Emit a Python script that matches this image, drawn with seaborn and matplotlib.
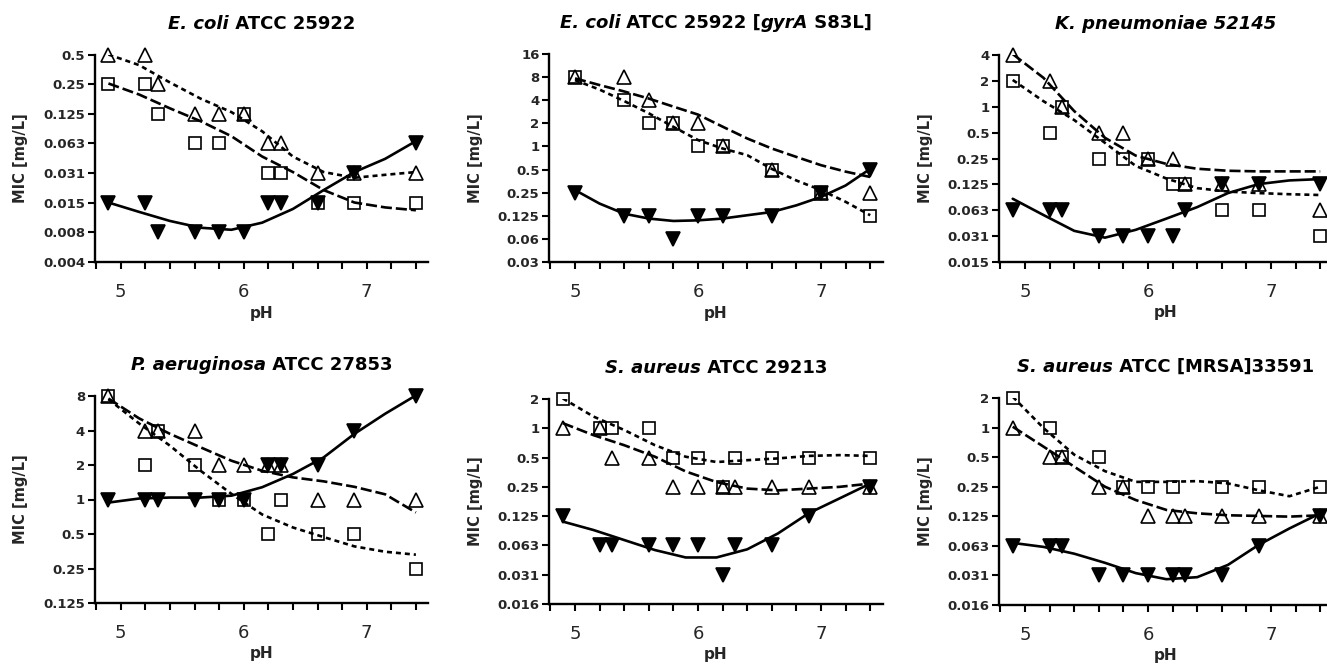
import numpy as np
import matplotlib
matplotlib.use("Agg")
import matplotlib.pyplot as plt
import seaborn as sns
from matplotlib.offsetbox import TextArea, HPacker, AnchoredOffsetbox
from matplotlib.ticker import NullLocator

# pH values of the measured points
PH = [4.9, 5.2, 5.3, 5.6, 5.8, 6.0, 6.2, 6.3, 6.6, 6.9, 7.4]
PH_GYRA = [5.0, 5.4, 5.6, 5.8, 6.0, 6.2, 6.6, 7.0, 7.4]
# pH values where the fitted curves were read
FIT_PH = [4.9, 5.15, 5.4, 5.65, 5.9, 6.15, 6.4, 6.65, 6.9, 7.15, 7.4]
FIT_PH_GYRA = [5.0, 5.2, 5.4, 5.6, 5.8, 6.0, 6.2, 6.4, 6.6, 6.8, 7.0, 7.2, 7.4]

# E. coli ATCC 25922
ecoli_tri = [0.5, 0.5, 0.25, 0.125, 0.125, 0.125, 0.0625, 0.0625, 0.03125, 0.03125, 0.03125]
ecoli_sq = [0.25, 0.25, 0.125, 0.0625, 0.0625, 0.125, 0.03125, 0.03125, 0.015625, 0.015625, 0.015625]
ecoli_inv = [0.015625, 0.015625, 0.0078125, 0.0078125, 0.0078125, 0.0078125, 0.015625, 0.015625, 0.015625, 0.03125, 0.0625]
ecoli_tri_fit = [0.50, 0.39, 0.26, 0.178, 0.130, 0.083, 0.046, 0.032, 0.028, 0.030, 0.032]
ecoli_sq_fit = [0.254, 0.196, 0.142, 0.105, 0.074, 0.046, 0.032, 0.021, 0.0157, 0.0140, 0.0131]
ecoli_inv_fit = [0.0157, 0.0126, 0.0102, 0.0087, 0.0083, 0.0098, 0.0135, 0.021, 0.032, 0.0436, 0.066]

# E. coli ATCC 25922 [gyrA S83L]
gyra_tri = [8, 8, 4, 2, 2, 1, 0.5, 0.25, 0.25]
gyra_sq = [8, 4, 2, 2, 1, 1, 0.5, 0.25, 0.125]
gyra_inv = [0.25, 0.125, 0.125, 0.0625, 0.125, 0.125, 0.125, 0.25, 0.5]
gyra_tri_fit = [7.7, 6.3, 5.2, 4.2, 3.3, 2.6, 1.81, 1.27, 0.94, 0.73, 0.57, 0.47, 0.40]
gyra_sq_fit = [7.3, 5.5, 3.9, 2.7, 1.80, 1.21, 0.94, 0.77, 0.51, 0.36, 0.27, 0.19, 0.127]
gyra_inv_fit = [0.27, 0.18, 0.133, 0.115, 0.107, 0.109, 0.115, 0.127, 0.140, 0.171, 0.22, 0.31, 0.51]

# K. pneumoniae 52145
kpn_tri = [4, 2, 1, 0.5, 0.5, 0.25, 0.25, 0.125, 0.125, 0.125, 0.0625]
kpn_sq = [2, 0.5, 1, 0.25, 0.25, 0.25, 0.125, 0.125, 0.0625, 0.0625, 0.03125]
kpn_inv = [0.0625, 0.0625, 0.0625, 0.03125, 0.03125, 0.03125, 0.03125, 0.0625, 0.125, 0.125, 0.125]
kpn_tri_fit = [4.1, 2.17, 0.89, 0.435, 0.27, 0.216, 0.19, 0.18, 0.177, 0.177, 0.177]
kpn_sq_fit = [2.05, 1.16, 0.70, 0.38, 0.205, 0.146, 0.113, 0.103, 0.099, 0.096, 0.094]
kpn_inv_fit = [0.085, 0.055, 0.036, 0.030, 0.037, 0.050, 0.068, 0.099, 0.126, 0.139, 0.144]

# P. aeruginosa ATCC 27853
pae_tri = [8, 4, 4, 4, 2, 2, 2, 2, 1, 1, 1]
pae_sq = [8, 2, 4, 2, 1, 1, 0.5, 1, 0.5, 0.5, 0.25]
pae_inv = [1, 1, 1, 1, 1, 1, 2, 2, 2, 4, 8]
pae_tri_fit = [7.6, 5.1, 3.74, 2.85, 2.18, 1.78, 1.56, 1.44, 1.29, 1.11, 0.77]
pae_sq_fit = [7.5, 4.6, 2.95, 1.78, 1.12, 0.74, 0.57, 0.47, 0.39, 0.35, 0.33]
pae_inv_fit = [0.94, 1.02, 1.04, 1.04, 1.08, 1.28, 1.67, 2.33, 3.74, 5.6, 8.1]

# S. aureus ATCC 29213
sau_tri = [1, 1, 0.5, 0.5, 0.25, 0.25, 0.25, 0.25, 0.25, 0.25, 0.25]
sau_sq = [2, 1, 1, 1, 0.5, 0.5, 0.25, 0.5, 0.5, 0.5, 0.5]
sau_inv = [0.125, 0.0625, 0.0625, 0.0625, 0.0625, 0.0625, 0.03125, 0.0625, 0.0625, 0.125, 0.25]
sau_tri_fit = [1.13, 0.85, 0.67, 0.51, 0.36, 0.28, 0.24, 0.23, 0.24, 0.25, 0.27]
sau_sq_fit = [2.03, 1.32, 0.96, 0.67, 0.51, 0.45, 0.47, 0.49, 0.52, 0.53, 0.52]
sau_inv_fit = [0.110, 0.090, 0.071, 0.056, 0.047, 0.047, 0.057, 0.083, 0.134, 0.19, 0.27]

# S. aureus ATCC [MRSA]33591
mrsa_tri = [1, 0.5, 0.5, 0.25, 0.25, 0.125, 0.125, 0.125, 0.125, 0.125, 0.125]
mrsa_sq = [2, 1, 0.5, 0.5, 0.25, 0.25, 0.25, np.nan, 0.25, 0.25, 0.25]
mrsa_inv = [0.0625, 0.0625, 0.0625, 0.03125, 0.03125, 0.03125, 0.03125, 0.03125, 0.03125, 0.0625, 0.125]
mrsa_tri_fit = [1.02, 0.64, 0.40, 0.25, 0.183, 0.145, 0.134, 0.128, 0.126, 0.124, 0.128]
mrsa_sq_fit = [2.06, 0.99, 0.53, 0.36, 0.28, 0.28, 0.285, 0.27, 0.23, 0.20, 0.25]
mrsa_inv_fit = [0.067, 0.061, 0.052, 0.042, 0.033, 0.0286, 0.030, 0.040, 0.064, 0.094, 0.134]

YT_ECOLI = ['0.004', '0.008', '0.015', '0.031', '0.063', '0.125', '0.25', '0.5']
YT_GYRA = ['0.03', '0.06', '0.125', '0.25', '0.5', '1', '2', '4', '8', '16']
YT_KPN = ['0.015', '0.031', '0.063', '0.125', '0.25', '0.5', '1', '2', '4']
YT_PAE = ['0.125', '0.25', '0.5', '1', '2', '4', '8']
YT_SAU = ['0.016', '0.031', '0.063', '0.125', '0.25', '0.5', '1', '2']

SHORT = (0, (1.9, 1.5))
LONG = (0, (4.2, 1.5))

panels = [
    dict(title=[("E. coli", True), (" ATCC 25922", False)], ph=PH, fph=FIT_PH,
         tri=ecoli_tri, sq=ecoli_sq, inv=ecoli_inv,
         tri_fit=ecoli_tri_fit, sq_fit=ecoli_sq_fit, inv_fit=ecoli_inv_fit,
         yt=YT_ECOLI, ylo=-8, tri_ls=SHORT, sq_ls=LONG, box=(94.9, 54.5, 262)),
    dict(title=[("E. coli", True), (" ATCC 25922 [", False), ("gyrA", True), (" S83L]", False)],
         ph=PH_GYRA, fph=FIT_PH_GYRA,
         tri=gyra_tri, sq=gyra_sq, inv=gyra_inv,
         tri_fit=gyra_tri_fit, sq_fit=gyra_sq_fit, inv_fit=gyra_inv_fit,
         yt=YT_GYRA, ylo=-5, tri_ls=LONG, sq_ls=SHORT, box=(549.2, 54, 262)),
    dict(title=[("K. pneumoniae 52145", True)], ph=PH, fph=FIT_PH,
         tri=kpn_tri, sq=kpn_sq, inv=kpn_inv,
         tri_fit=kpn_tri_fit, sq_fit=kpn_sq_fit, inv_fit=kpn_inv_fit,
         yt=YT_KPN, ylo=-6, tri_ls=LONG, sq_ls=SHORT, box=(999.2, 55, 262)),
    dict(title=[("P. aeruginosa", True), (" ATCC 27853", False)], ph=PH, fph=FIT_PH,
         tri=pae_tri, sq=pae_sq, inv=pae_inv,
         tri_fit=pae_tri_fit, sq_fit=pae_sq_fit, inv_fit=pae_inv_fit,
         yt=YT_PAE, ylo=-3, tri_ls=LONG, sq_ls=SHORT, box=(94.9, 396, 603)),
    dict(title=[("S. aureus", True), (" ATCC 29213", False)], ph=PH, fph=FIT_PH,
         tri=sau_tri, sq=sau_sq, inv=sau_inv,
         tri_fit=sau_tri_fit, sq_fit=sau_sq_fit, inv_fit=sau_inv_fit,
         yt=YT_SAU, ylo=-6, tri_ls=LONG, sq_ls=SHORT, box=(549.2, 399, 604)),
    dict(title=[("S. aureus", True), (" ATCC [MRSA]33591", False)], ph=PH, fph=FIT_PH,
         tri=mrsa_tri, sq=mrsa_sq, inv=mrsa_inv,
         tri_fit=mrsa_tri_fit, sq_fit=mrsa_sq_fit, inv_fit=mrsa_inv_fit,
         yt=YT_SAU, ylo=-6, tri_ls=LONG, sq_ls=SHORT, box=(999.2, 398, 605)),
]

sns.set_style("ticks")
plt.rcParams['font.family'] = ['DejaVu Sans']

W, H = 1327, 665
fig = plt.figure(figsize=(W / 100, H / 100), dpi=100)
AX_W = 333.3


def add_title(ax, parts):
    boxes = [TextArea(t, textprops=dict(fontsize=13, fontweight='bold', color='k',
                                        fontstyle='italic' if it else 'normal'))
             for t, it in parts]
    pack = HPacker(children=boxes, align='baseline', pad=0, sep=0)
    ab = AnchoredOffsetbox(loc='lower center', child=pack, pad=0, borderpad=0, frameon=False,
                           bbox_to_anchor=(0.5, 1.105), bbox_transform=ax.transAxes)
    ax.add_artist(ab)


for p in panels:
    left, top, bottom = p['box']
    ax = fig.add_axes([left / W, (H - bottom) / H, AX_W / W, (bottom - top) / H])
    ax.set_yscale('log', base=2)

    line_kw = dict(ax=ax, color='k', lw=1.9, estimator=None, sort=False, legend=False)
    sns.lineplot(x=p['fph'], y=p['tri_fit'], linestyle=p['tri_ls'], **line_kw)
    sns.lineplot(x=p['fph'], y=p['sq_fit'], linestyle=p['sq_ls'], **line_kw)
    sns.lineplot(x=p['fph'], y=p['inv_fit'], linestyle='-', **line_kw)

    mk_kw = dict(ax=ax, color='k', linestyle='none', estimator=None, legend=False,
                 markeredgecolor='k', markeredgewidth=1.2, clip_on=False)
    sns.lineplot(x=p['ph'], y=p['tri'], marker='^', markersize=9.5, markerfacecolor='none', **mk_kw)
    sns.lineplot(x=p['ph'], y=p['sq'], marker='s', markersize=8.5, markerfacecolor='none', **mk_kw)
    sns.lineplot(x=p['ph'], y=p['inv'], marker='v', markersize=9.5, markerfacecolor='k', **mk_kw)

    n = len(p['yt'])
    ax.set_ylim(2.0 ** p['ylo'], 2.0 ** (p['ylo'] + n - 1))
    ax.set_yticks(2.0 ** np.arange(p['ylo'], p['ylo'] + n), labels=p['yt'])
    ax.yaxis.set_minor_locator(NullLocator())
    ax.set_xlim(4.79, 7.5)
    ax.set_xticks([5, 6, 7], labels=['5', '6', '7'])
    ax.set_xticks(np.arange(4.8, 7.45, 0.2), minor=True)
    ax.tick_params(axis='both', which='both', direction='out', length=5, width=1.5, color='k')
    ax.tick_params(axis='y', labelsize=9.5, pad=2)
    ax.tick_params(axis='x', labelsize=13, pad=10)
    for lab in ax.get_yticklabels():
        lab.set_fontweight('bold')

    sns.despine(ax=ax)
    for s in ('left', 'bottom'):
        ax.spines[s].set_linewidth(1.7)
        ax.spines[s].set_color('k')

    ax.set_xlabel('pH', fontsize=11, fontweight='bold')
    ax.set_ylabel('MIC [mg/L]', fontsize=10.5, fontweight='bold')
    ax.xaxis.set_label_coords(0.5, -0.21)
    ax.yaxis.set_label_coords(-0.2, 0.5)
    add_title(ax, p['title'])

fig.savefig("out.png", dpi=100)
plt.close(fig)
